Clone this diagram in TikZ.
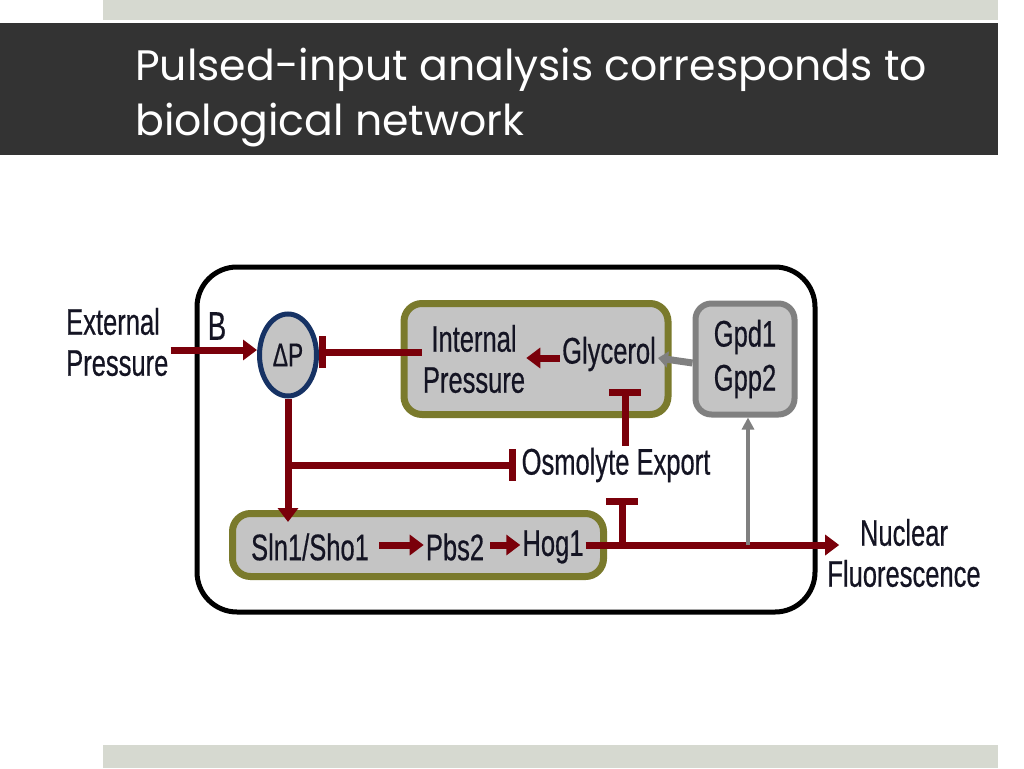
\documentclass[tikz,border=0pt]{standalone}
\usepackage{fontspec}
\setmainfont{Liberation Sans}
\newfontfamily\narrowfont[FakeStretch=0.69,FakeBold=0.5]{Liberation Sans}
\newfontfamily\titlefont{Poppins}
\usetikzlibrary{arrows.meta,shapes.geometric}
\definecolor{hogred}{RGB}{122,0,10}
\definecolor{olivebd}{RGB}{122,122,44}
\definecolor{boxgray}{RGB}{196,196,196}
\definecolor{dpblue}{RGB}{22,50,100}
\definecolor{bandgray}{RGB}{214,217,208}
\definecolor{banddark}{RGB}{51,51,51}
\definecolor{inkcol}{RGB}{20,20,35}
\definecolor{linkgray}{RGB}{128,128,128}
\begin{document}
\begin{tikzpicture}[x=1pt,y=-1pt,
  lbl/.style={font=\narrowfont\fontsize{37}{41}\selectfont, text=inkcol, inner sep=2pt},
  olivebox/.style={draw=olivebd, line width=7pt, fill=boxgray, rounded corners=18pt},
  act/.style={hogred, line width=7pt, -{Triangle[length=14pt,width=20pt]}},
  inhib/.style={hogred, line width=7pt, -{Bar[width=32pt]}},
  grayact/.style={linkgray, line width=3.5pt, -{Triangle[length=12pt,width=12pt]}}]
\useasboundingbox (0,0) rectangle (1024,768);
\fill[white] (0,0) rectangle (1024,768);

% slide bands and title
\fill[bandgray] (103,0) rectangle (998,20);
\fill[banddark] (0,23) rectangle (998,155);
\fill[bandgray] (103,745) rectangle (998,768);
\node[anchor=base west, text=white, align=left, inner sep=0pt,
  font=\titlefont\fontsize{42.6}{55}\selectfont] (title) at (135,135)
  {Pulsed-input analysis corresponds to\\biological network};

% cell outline
\draw[black, line width=5pt, rounded corners=40pt] (197,267) rectangle (815,612);
\node[lbl, font=\narrowfont\fontsize{40}{41}\selectfont] (blabel) at (217,326) {B};

% containers
\node[olivebox, minimum width=264, minimum height=111] (glybox) at (536,359) {};
\node[olivebox, minimum width=371, minimum height=63] (sigbox) at (418,545) {};
\node[draw=linkgray, line width=6pt, fill=boxgray, rounded corners=16pt,
  minimum width=99, minimum height=111, align=center,
  font=\narrowfont\fontsize{37}{44}\selectfont, text=inkcol] (gpd) at (745,359) {Gpd1\\Gpp2};

% species
\node[lbl, align=left, anchor=west] (extp) at (64,342) {External\\Pressure};
\node[ellipse, draw=dpblue, line width=5pt, fill=boxgray, minimum width=57,
  minimum height=82, inner sep=0pt, font=\narrowfont\fontsize{33}{36}\selectfont,
  text=inkcol] (dp) at (288,355) {ΔP};
\node[lbl, align=center, inner sep=1pt] (intp) at (474,359) {Internal\\Pressure};
\node[lbl] (glyc) at (609,354) {Glycerol};
\node[lbl] (osm) at (616,465) {Osmolyte Export};
\node[lbl] (sln) at (310,547) {Sln1/Sho1};
\node[lbl] (pbs) at (455,547) {Pbs2};
\node[lbl] (hog) at (553,547) {Hog1};
\node[lbl, align=center] (nuc) at (904,553) {Nuclear\\Fluorescence};

% connectors
\draw[act] ([yshift=5pt]extp.east |- dp) -- ([yshift=5pt]dp.west);
\draw[inhib] ([yshift=3pt]intp.west |- dp) -- ([yshift=3pt]dp.east);
\draw[act] ([yshift=-4pt]glyc.west) -- ([yshift=-4pt]intp.east |- glyc.west);
\draw[linkgray, line width=7pt, -{Triangle[length=10pt,width=16pt]}]
  ([yshift=-4pt]gpd.west) -- ([yshift=-4pt]glyc.east);
\draw[act] (dp.south) -- ([yshift=-12pt]dp.south |- sigbox.north);
\coordinate (br1) at (dp.south |- osm);
\draw[inhib] (br1) -- ([xshift=-3pt]osm.west);
\draw[inhib] ([xshift=9pt]osm.north) -- ([xshift=9pt,yshift=-16pt]osm.north |- glyc.south);
\draw[act] ([shift={(8pt,2pt)}]sln.east) -- ([yshift=2pt]pbs.west);
\draw[act] ([shift={(4pt,2pt)}]pbs.east) -- ([yshift=2pt]hog.west);
\draw[act] ([yshift=2pt]hog.east) -- ([xshift=14pt,yshift=2pt]hog.east -| nuc.west);
\draw[inhib] ([xshift=6pt,yshift=2pt]hog.east -| osm.south) -- ([xshift=6pt,yshift=-14pt]osm.south);
\draw[grayact] ([xshift=3pt,yshift=2pt]hog.east -| gpd.south) -- ([xshift=3pt]gpd.south);
\end{tikzpicture}
\end{document}
